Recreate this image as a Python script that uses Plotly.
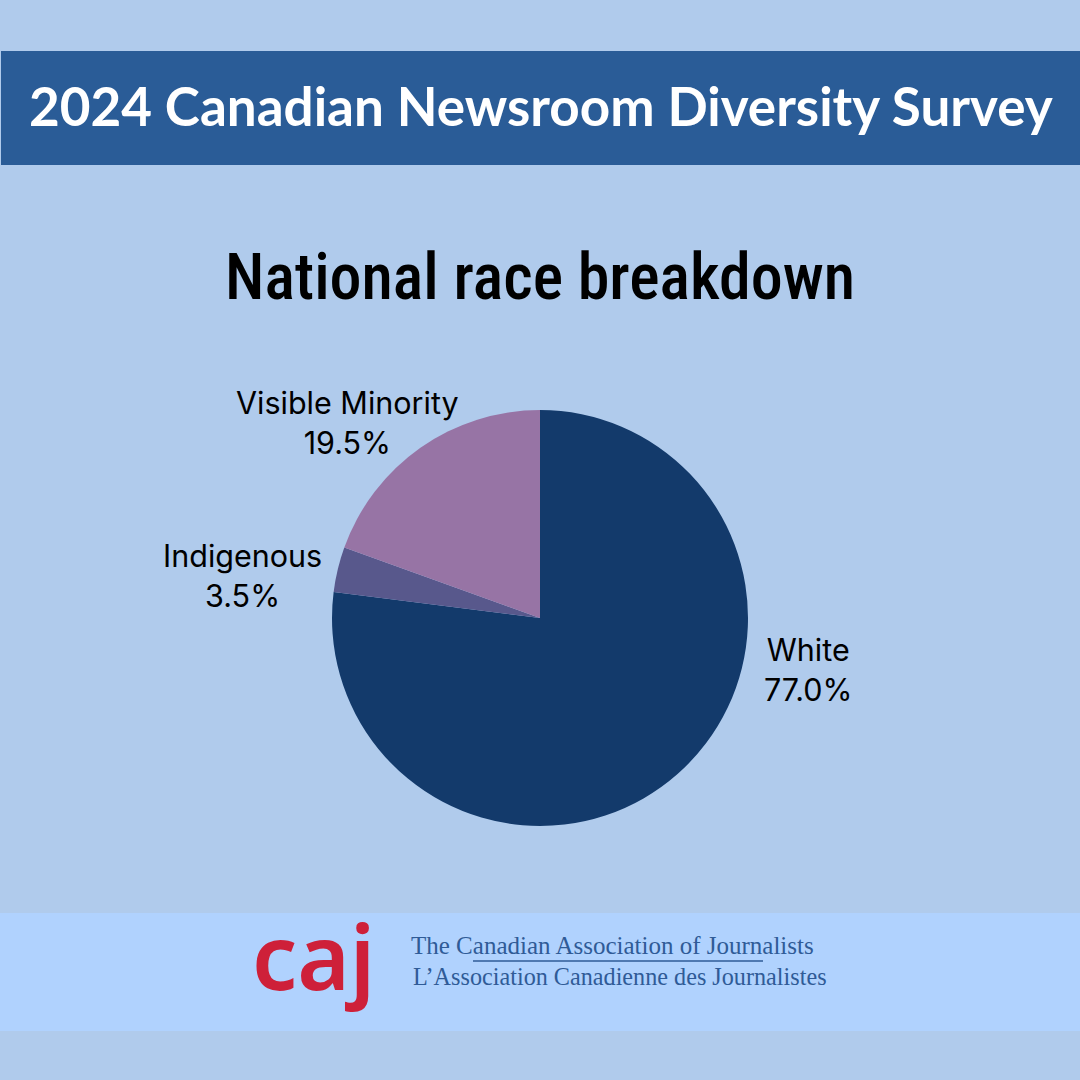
import plotly.graph_objects as go

labels = ["White", "Indigenous", "Visible Minority"]
values = [77.0, 3.5, 19.5]
colors = ["#133A6B", "#58588C", "#9774A5"]
# label centres in pixels on the 1080 canvas
label_pos = [(808, 669), (242, 575), (347, 423)]

WIDTH = 1080
HEIGHT = 1080


def px_x(x):
    return x / WIDTH


def px_y(y):
    return 1 - y / HEIGHT


def text(x, y, s, size, color, family, weight=400):
    return dict(x=px_x(x), y=px_y(y), xref="paper", yref="paper", text=s, showarrow=False,
                xanchor="center", yanchor="middle",
                font=dict(size=size, color=color, family=family, weight=weight))


def band(x0, y0, x1, y1, color):
    return dict(type="rect", xref="paper", yref="paper", layer="below", line_width=0, fillcolor=color,
                x0=px_x(x0), x1=px_x(x1), y0=px_y(y1), y1=px_y(y0))


fig = go.Figure(go.Pie(labels=labels, values=values, sort=False, direction="clockwise", rotation=0,
                       marker=dict(colors=colors, line_width=0), textinfo="none", showlegend=False,
                       domain=dict(x=[px_x(332), px_x(748)], y=[px_y(826), px_y(410)])))

annotations = [
    text(541, 106, "<b>2024 Canadian Newsroom Diversity Survey</b>", 53, "white", "Lato"),
    text(540, 277, "National race breakdown", 64, "black", "Roboto Condensed, Roboto", weight=500),
    text(313, 955, "caj", 90, "#CE2039", "Noto Sans", weight=600),
    text(613, 945, "The Canadian Association of Journalists", 25, "#2F5B97", "Liberation Serif"),
    text(619.5, 976, "L’Association Canadienne des Journalistes", 24.2, "#2F5B97", "Liberation Serif"),
]
for name, value, pos in zip(labels, values, label_pos):
    annotations.append(text(pos[0], pos[1], f"{name}<br>{value:.1f}%", 30.5, "black", "Inter"))

fig.update_layout(
    width=WIDTH, height=HEIGHT, margin=dict(l=0, r=0, t=0, b=0),
    paper_bgcolor="#B0CBEC", plot_bgcolor="#B0CBEC",
    annotations=annotations,
    shapes=[
        band(1, 51, 1080, 165, "#2A5C97"),
        band(0, 913, 1080, 1031, "#B0D2FE"),
        dict(type="line", xref="paper", yref="paper", x0=px_x(473), x1=px_x(763), y0=px_y(961), y1=px_y(961),
             line=dict(color="#2F5B97", width=1.5)),
    ],
)

# drop the default page margin so the figure fills the window
fig.write_html("out.html", config={"displayModeBar": False},
               post_script="document.body.style.margin='0';")
